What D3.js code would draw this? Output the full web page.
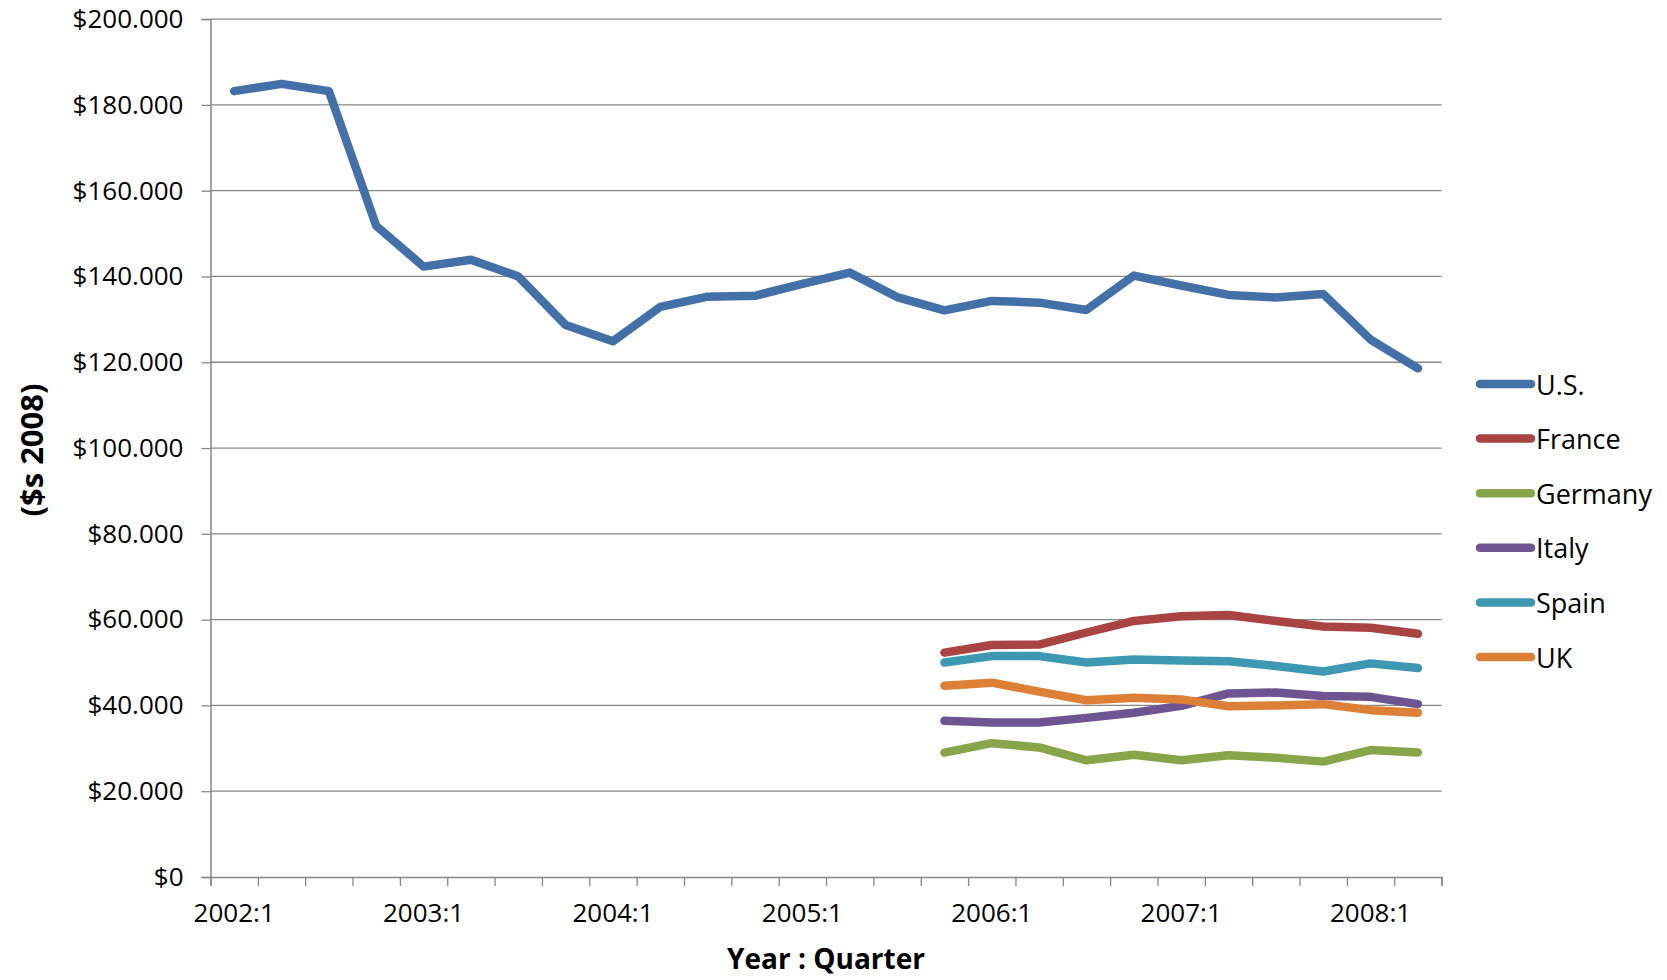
<!DOCTYPE html>
<html>
<head>
<meta charset="utf-8">
<script src="https://cdn.jsdelivr.net/npm/d3@7/dist/d3.min.js"></script>
<style>
  html, body { margin: 0; padding: 0; background: #fff; }
  svg { display: block; font-family: "Open Sans", "Noto Sans", sans-serif; }
</style>
</head>
<body>
<svg id="chart" width="1667" height="980"></svg>
<script>
// ---- data ----
const categories = [
  "2002:1","2002:2","2002:3","2002:4",
  "2003:1","2003:2","2003:3","2003:4",
  "2004:1","2004:2","2004:3","2004:4",
  "2005:1","2005:2","2005:3","2005:4",
  "2006:1","2006:2","2006:3","2006:4",
  "2007:1","2007:2","2007:3","2007:4",
  "2008:1","2008:2"
];
const usValues = [183.2, 184.9, 183.2, 151.8, 142.3, 143.9, 140.0, 128.7, 124.9, 132.9,
                  135.3, 135.5, 138.3, 140.9, 135.2, 132.1, 134.3, 133.9, 132.2, 140.2,
                  137.9, 135.7, 135.1, 135.9, 125.3, 118.6];
// European series cover 2005:4 .. 2008:2
const euroQuarters = ["2005:4","2006:1","2006:2","2006:3","2006:4","2007:1",
                      "2007:2","2007:3","2007:4","2008:1","2008:2"];
const franceValues  = [52.3, 54.1, 54.2, 57.0, 59.7, 60.8, 61.1, 59.7, 58.4, 58.1, 56.7];
const germanyValues = [29.0, 31.2, 30.2, 27.2, 28.5, 27.2, 28.4, 27.8, 26.9, 29.6, 29.0];
const italyValues   = [36.4, 36.0, 36.0, 37.1, 38.3, 39.9, 42.8, 43.0, 42.2, 42.0, 40.3];
const spainValues   = [50.0, 51.5, 51.5, 50.0, 50.7, 50.5, 50.3, 49.2, 47.9, 49.8, 48.7];
const ukValues      = [44.6, 45.3, 43.2, 41.2, 41.8, 41.4, 39.8, 40.0, 40.3, 38.9, 38.3];
const seriesNames  = ["U.S.", "France", "Germany", "Italy", "Spain", "UK"];
const seriesColors = ["#4470A8", "#A84441", "#87A64A", "#6E5490", "#3F98B2", "#DC8037"];
const yTicks = [0, 20, 40, 60, 80, 100, 120, 140, 160, 180, 200]; // thousands of $
const xLabelQuarters = ["2002:1","2003:1","2004:1","2005:1","2006:1","2007:1","2008:1"];
const xTitle = "Year : Quarter";
const yTitle = "($s 2008)";

// ---- layout ----
const plotLeft = 210.5, plotRight = 1441.6, plotTop = 19.1, plotBottom = 877;
const svg = d3.select("#chart");

const x = d3.scaleBand().domain(categories).range([plotLeft, plotRight]).padding(0);
const xb = d3.scaleLinear().domain([0, categories.length]).range([plotLeft, plotRight]);
const y = d3.scaleLinear().domain([0, 200]).range([plotBottom, plotTop]);

const gridColor = "#878787";

// gridlines
svg.append("g")
  .selectAll("line")
  .data(yTicks.filter(d => d > 0))
  .join("line")
  .attr("x1", plotLeft).attr("x2", plotRight)
  .attr("y1", d => y(d)).attr("y2", d => y(d))
  .attr("stroke", gridColor).attr("stroke-width", 1.3);

// y axis
const yAxis = svg.append("g")
  .attr("transform", `translate(${plotLeft},0)`)
  .call(d3.axisLeft(y).tickValues(yTicks).tickSize(9).tickPadding(18)
        .tickFormat(d => d === 0 ? "$0" : `$${d}.000`));
yAxis.select(".domain").attr("stroke", gridColor).attr("stroke-width", 1.5);
yAxis.selectAll(".tick line").attr("stroke", gridColor).attr("stroke-width", 1.3);
yAxis.selectAll(".tick text").attr("font-size", 26).attr("fill", "#000")
  .attr("font-family", "Open Sans");

// x axis: tick marks at category boundaries
const xTickAxis = svg.append("g")
  .attr("transform", `translate(0,${plotBottom})`)
  .call(d3.axisBottom(xb).tickValues(d3.range(categories.length + 1)).tickSize(9).tickFormat(""));
xTickAxis.select(".domain").attr("stroke", gridColor).attr("stroke-width", 1.5);
xTickAxis.selectAll(".tick line").attr("stroke", gridColor).attr("stroke-width", 1.3);

// x labels centered on categories
const xLabelAxis = svg.append("g")
  .attr("transform", `translate(0,${plotBottom})`)
  .call(d3.axisBottom(x).tickValues(xLabelQuarters).tickSize(0).tickPadding(27));
xLabelAxis.select(".domain").remove();
xLabelAxis.selectAll(".tick text").attr("font-size", 26).attr("fill", "#000")
  .attr("font-family", "Open Sans");

// axis titles
svg.append("text")
  .attr("x", (plotLeft + plotRight) / 2).attr("y", 958)
  .attr("text-anchor", "middle").attr("dominant-baseline", "central")
  .attr("font-size", 28).attr("font-weight", "bold").attr("fill", "#000")
  .text(xTitle);
svg.append("text")
  .attr("transform", "translate(31,450) rotate(-90)")
  .attr("text-anchor", "middle").attr("dominant-baseline", "central")
  .attr("font-size", 31).attr("font-weight", "bold").attr("fill", "#000")
  .text(yTitle);

// series
const series = [
  { name: seriesNames[0], color: seriesColors[0], quarters: categories,   values: usValues },
  { name: seriesNames[1], color: seriesColors[1], quarters: euroQuarters, values: franceValues },
  { name: seriesNames[2], color: seriesColors[2], quarters: euroQuarters, values: germanyValues },
  { name: seriesNames[3], color: seriesColors[3], quarters: euroQuarters, values: italyValues },
  { name: seriesNames[4], color: seriesColors[4], quarters: euroQuarters, values: spainValues },
  { name: seriesNames[5], color: seriesColors[5], quarters: euroQuarters, values: ukValues }
];

const line = d3.line()
  .x(d => x(d.q) + x.bandwidth() / 2)
  .y(d => y(d.v));

svg.append("g")
  .selectAll("path")
  .data(series)
  .join("path")
  .attr("d", s => line(s.quarters.map((q, i) => ({ q, v: s.values[i] }))))
  .attr("fill", "none")
  .attr("stroke", s => s.color)
  .attr("stroke-width", 8.5)
  .attr("stroke-linecap", "round")
  .attr("stroke-linejoin", "round");

// legend
const legend = svg.append("g");
const legendRowY = d3.scaleLinear().domain([0, series.length - 1]).range([384, 657]);
const lg = legend.selectAll("g").data(series).join("g")
  .attr("transform", (s, i) => `translate(0,${legendRowY(i)})`);
lg.append("line")
  .attr("x1", 1480).attr("x2", 1531).attr("y1", 0).attr("y2", 0)
  .attr("stroke", s => s.color).attr("stroke-width", 8.5).attr("stroke-linecap", "round");
lg.append("text")
  .attr("x", 1536).attr("y", 0)
  .attr("dominant-baseline", "central")
  .attr("font-size", 27).attr("fill", "#000")
  .text(s => s.name);
</script>
</body>
</html>
